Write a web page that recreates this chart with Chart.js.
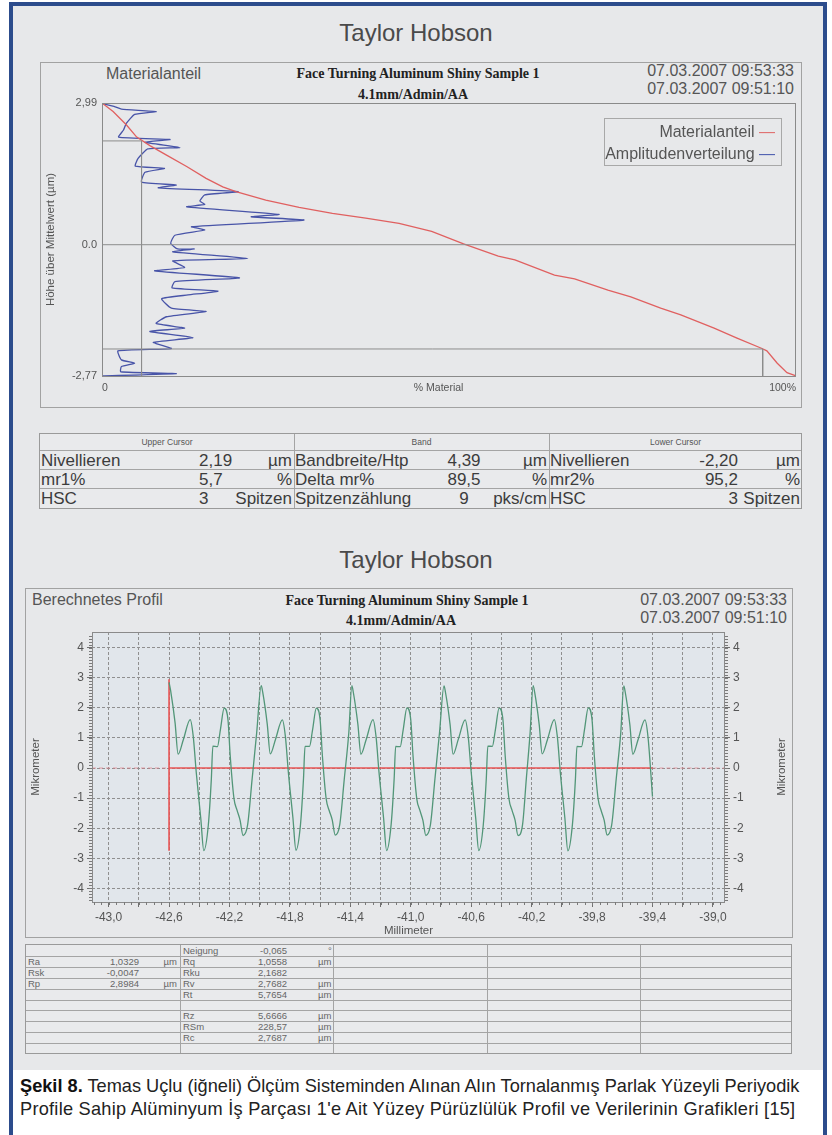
<!DOCTYPE html>
<html>
<head>
<meta charset="utf-8">
<script src="https://cdn.jsdelivr.net/npm/chart.js@4.4.0/dist/chart.umd.min.js"></script>
<style>
  body { margin:0; width:832px; height:1135px; position:relative; background:#fff; overflow:hidden;
         font-family:'Liberation Sans', Arial, sans-serif; color:#555; }
  .abs { position:absolute; white-space:nowrap; }
  #border { left:9px; top:2px; width:818px; height:1150px; border:4px solid #2c4c8c; border-bottom:none; box-sizing:border-box; }
  #panel { left:13px; top:6px; width:810px; height:1064px; background:#e7e8ea; }
  .brand { left:0; width:832px; text-align:center; font-size:24px; line-height:24px; color:#4a4a4a; }
  .frame { border:1px solid #a2a2a2; box-sizing:border-box; }
  .head { font-size:16px; line-height:16px; color:#555; }
  .serif { font-family:'Liberation Serif', 'Times New Roman', serif; font-weight:bold; font-size:14px; line-height:14px; color:#222; text-align:center; width:400px; }
  .date { font-size:16px; line-height:18px; color:#555; text-align:right; }
  #legend { left:604px; top:118px; width:178px; height:48px; border:1px solid #a8a8a8; box-sizing:border-box; font-size:16px; color:#555; }
  #legend div { text-align:right; padding-right:6px; line-height:22px; }
  .tbl { border:1px solid #9a9a9a; box-sizing:border-box; background:#e9eaec; }
  .cell { position:absolute; white-space:nowrap; }
  canvas { position:absolute; }
  #caption { left:20px; top:1075px; font-size:18.2px; line-height:23px; color:#222; }
  #caption b { color:#111; }
</style>
</head>
<body>
<div class="abs" id="border"></div>
<div class="abs" id="panel"></div>

<div class="abs brand" style="top:21px;">Taylor Hobson</div>
<div class="abs frame" style="left:40px; top:62px; width:762px; height:346px;"></div>
<div class="abs head" style="left:106px; top:66px;">Materialanteil</div>
<div class="abs serif" style="left:218px; top:67px;">Face Turning Aluminum Shiny Sample 1</div>
<div class="abs serif" style="left:213px; top:88px;">4.1mm/Admin/AA</div>
<div class="abs date" style="right:38px; top:62px;">07.03.2007 09:53:33<br>07.03.2007 09:51:10</div>
<canvas id="chart1" width="762" height="346" style="left:40px; top:62px;"></canvas>
<div class="abs" id="legend">
  <div style="margin-top:2px;">Materialanteil <span style="color:#e07070">—</span></div>
  <div>Amplitudenverteilung <span style="color:#5060b0">—</span></div>
</div>

<div class="abs tbl" id="table1" style="left:39px; top:433px; width:763px; height:76px;"></div>

<div class="abs brand" style="top:548px;">Taylor Hobson</div>
<div class="abs frame" style="left:25px; top:588px; width:768px; height:350px;"></div>
<div class="abs head" style="left:32px; top:592px;">Berechnetes Profil</div>
<div class="abs serif" style="left:207px; top:594px;">Face Turning Aluminum Shiny Sample 1</div>
<div class="abs serif" style="left:201px; top:614px;">4.1mm/Admin/AA</div>
<div class="abs date" style="right:45px; top:591px;">07.03.2007 09:53:33<br>07.03.2007 09:51:10</div>
<canvas id="chart2" width="768" height="350" style="left:25px; top:588px;"></canvas>

<div class="abs tbl" id="table2" style="left:25px; top:944px; width:767px; height:110px;"></div>

<div class="abs" id="caption"><b>Şekil 8.</b> Temas Uçlu (iğneli) Ölçüm Sisteminden Alınan Alın Tornalanmış Parlak Yüzeyli Periyodik<br><span style="letter-spacing:0.25px;">Profile Sahip Alüminyum İş Parçası 1'e Ait Yüzey Pürüzlülük Profil ve Verilerinin Grafikleri [15]</span></div>

<script>
// Materialanteil (Abbott curve): % material vs height (um)
const redMaterial = [0, 1.6, 3.5, 5.0, 6.9, 9.3, 12.2, 15.0, 17.4, 19.3, 23.6, 28.4, 33.2, 38.0, 42.8, 47.5,
  52.1, 57.1, 59.5, 65.2, 68.1, 72.9, 76.2, 80.5, 83.4, 88.2, 91.5, 95.1, 95.8, 97.3, 98.7, 99.7, 100];
const redHeight = [2.99, 2.81, 2.53, 2.27, 2.09, 1.89, 1.65, 1.40, 1.22, 1.12, 0.94, 0.79, 0.66, 0.56, 0.45, 0.28,
  0.02, -0.24, -0.32, -0.64, -0.72, -0.96, -1.10, -1.34, -1.48, -1.76, -1.97, -2.19, -2.24, -2.50, -2.70, -2.75, -2.77];

// Amplitudenverteilung
const blueMaterial = [0, 1.9, 2.8, 7.8, 4.7, 3.5, 3.1, 2.4, 9.8, 6.2, 11.2, 6.6, 5.2, 4.8, 9.0, 6.2, 5.7, 10.7, 8.1, 19.6,
  14.8, 14.1, 14.8, 12.2, 25.5, 21.5, 29.1, 12.9, 14.8, 10.5, 9.9, 10.9, 13.3, 10.2, 21.0, 10.2, 11.9, 7.6, 19.8, 10.5,
  10.1, 16.7, 12.4, 8.6, 10.0, 15.0, 9.3, 7.8, 11.9, 6.9, 13.1, 7.4, 10.0, 2.3, 2.8, 4.7, 2.8, 2.7, 10.7, 0];
const blueHeight = [2.98, 2.91, 2.86, 2.81, 2.75, 2.56, 2.42, 2.27, 2.22, 2.16, 2.05, 2.02, 1.82, 1.66, 1.61, 1.53, 1.32, 1.26, 1.20, 1.12,
  1.05, 0.92, 0.85, 0.80, 0.64, 0.59, 0.52, 0.38, 0.31, 0.20, 0.03, -0.09, -0.09, -0.15, -0.29, -0.34, -0.48, -0.55, -0.70, -0.78,
  -0.91, -0.98, -1.06, -1.14, -1.34, -1.41, -1.52, -1.66, -1.76, -1.83, -1.96, -2.06, -2.19, -2.24, -2.43, -2.50, -2.57, -2.68, -2.72, -2.77];

const heightRange1 = [-2.77, 2.99];
const yTicks1 = [-2.77, 0, 2.99];
const yTickLabels1 = ['-2,77', '0.0', '2,99'];
const xTicks1 = [0, 48.5, 100];
const xTickLabels1 = ['0', '% Material', '100%'];
const cursorLevels = [2.19, -2.20];   // upper, lower Nivellieren
const cursorMr = [5.7, 95.2];         // mr1%, mr2%

// Berechnetes Profil
const profileX = [
  -42.600, -42.590, -42.560, -42.540, -42.505, -42.460, -42.440, -42.420, -42.390, -42.370, -42.340, -42.320, -42.310,
  -42.280, -42.260, -42.235, -42.210, -42.195, -42.170, -42.150, -42.130, -42.110, -42.080, -42.050, -42.020,
  -41.990, -41.980, -41.950, -41.930, -41.895, -41.850, -41.830, -41.810, -41.780, -41.760, -41.730, -41.710, -41.700,
  -41.670, -41.650, -41.625, -41.600, -41.585, -41.560, -41.540, -41.520, -41.500, -41.470, -41.440, -41.410,
  -41.390, -41.380, -41.350, -41.330, -41.295, -41.250, -41.230, -41.210, -41.180, -41.160, -41.130, -41.110, -41.100,
  -41.070, -41.050, -41.025, -41.000, -40.985, -40.960, -40.940, -40.920, -40.900, -40.870, -40.840, -40.810,
  -40.780, -40.770, -40.740, -40.720, -40.685, -40.640, -40.620, -40.600, -40.570, -40.550, -40.520, -40.500, -40.490,
  -40.460, -40.440, -40.415, -40.390, -40.375, -40.350, -40.330, -40.310, -40.290, -40.260, -40.235, -40.210,
  -40.190, -40.180, -40.150, -40.130, -40.095, -40.050, -40.030, -40.010, -39.980, -39.960, -39.930, -39.910, -39.900,
  -39.870, -39.850, -39.825, -39.800, -39.785, -39.760, -39.740, -39.720, -39.700, -39.670, -39.640, -39.610,
  -39.590, -39.580, -39.550, -39.530, -39.495, -39.450, -39.430, -39.400];
const profileY = [
  2.85, 2.59, 1.50, 0.46, 0.95, 1.61, 1.06, -0.14, -1.67, -2.74, -1.89, -0.36, 0.73,
  0.71, 1.28, 1.99, 1.61, 0.40, -1.02, -1.40, -1.73, -2.24, -1.89, -0.36, 1.17,
  2.74, 2.52, 1.46, 0.47, 0.96, 1.60, 1.05, -0.15, -1.66, -2.73, -1.88, -0.35, 0.72,
  0.72, 1.27, 1.99, 1.60, 0.41, -1.02, -1.41, -1.72, -2.23, -1.88, -0.36, 1.18,
  2.74, 2.51, 1.45, 0.46, 0.95, 1.61, 1.05, -0.15, -1.66, -2.74, -1.88, -0.36, 0.72,
  0.71, 1.28, 2.00, 1.60, 0.40, -1.03, -1.40, -1.73, -2.24, -1.89, -0.36, 1.16,
  2.73, 2.51, 1.46, 0.46, 0.96, 1.60, 1.06, -0.14, -1.67, -2.74, -1.89, -0.35, 0.73,
  0.72, 1.27, 1.99, 1.61, 0.41, -1.02, -1.40, -1.72, -2.24, -1.88, -0.35, 1.17,
  2.74, 2.52, 1.45, 0.47, 0.95, 1.61, 1.05, -0.15, -1.66, -2.75, -1.88, -0.36, 0.72,
  0.71, 1.28, 2.00, 1.60, 0.40, -1.02, -1.41, -1.73, -2.23, -1.89, -0.36, 1.17,
  2.73, 2.51, 1.45, 0.46, 0.95, 1.60, 1.05, -0.95];

const xRange2 = [-43.11, -38.92];
const yRange2 = [-4.45, 4.52];
const xTicks2 = [-43.0, -42.8, -42.6, -42.4, -42.2, -42.0, -41.8, -41.6, -41.4, -41.2, -41.0,
  -40.8, -40.6, -40.4, -40.2, -40.0, -39.8, -39.6, -39.4, -39.2, -39.0];
const xTickLabels2 = ['-43,0', '', '-42,6', '', '-42,2', '', '-41,8', '', '-41,4', '', '-41,0',
  '', '-40,6', '', '-40,2', '', '-39,8', '', '-39,4', '', '-39,0'];
const yTicks2 = [-4, -3, -2, -1, 0, 1, 2, 3, 4];
const evalRange = [-42.6, -39.4];      // red reference line span
const markerHeights = [2.95, -2.75];   // red start marker

// tables
const cursorHeads = ['Upper Cursor', 'Band', 'Lower Cursor'];
const upperCursorRows = [['Nivellieren', '2,19', 'µm'], ['mr1%', '5,7', '%'], ['HSC', '3', 'Spitzen']];
const bandRows = [['Bandbreite/Htp', '4,39', 'µm'], ['Delta mr%', '89,5', '%'], ['Spitzenzählung', '9', 'pks/cm']];
const lowerCursorRows = [['Nivellieren', '-2,20', 'µm'], ['mr2%', '95,2', '%'], ['HSC', '3', 'Spitzen']];
const paramRowsA = [['', '', ''], ['Ra', '1,0329', 'µm'], ['Rsk', '-0,0047', ''], ['Rp', '2,8984', 'µm'],
  ['', '', ''], ['', '', ''], ['', '', ''], ['', '', ''], ['', '', ''], ['', '', '']];
const paramRowsB = [['Neigung', '-0,065', '°'], ['Rq', '1,0558', 'µm'], ['Rku', '2,1682', ''], ['Rv', '2,7682', 'µm'],
  ['Rt', '5,7654', 'µm'], ['', '', ''], ['Rz', '5,6666', 'µm'], ['RSm', '228,57', 'µm'], ['Rc', '2,7687', 'µm'], ['', '', '']];

Chart.defaults.font.family = "'Liberation Sans', Arial, sans-serif";
Chart.defaults.color = '#555';

const pts = (xs, ys) => xs.map((x, i) => ({ x: x, y: ys[i] }));
const lineDs = (data, color, width, extra) => Object.assign({
  data: data, showLine: true, borderColor: color, borderWidth: width, pointRadius: 0, fill: false
}, extra || {});

const plotFrame = {
  id: 'plotFrame',
  beforeDraw(chart, args, opts) {
    if (!opts.fill) return;
    const { ctx, chartArea: a } = chart;
    ctx.save();
    ctx.fillStyle = opts.fill;
    ctx.fillRect(a.left, a.top, a.right - a.left, a.bottom - a.top);
    ctx.restore();
  },
  afterDraw(chart, args, opts) {
    const { ctx, chartArea: a } = chart;
    ctx.save();
    ctx.strokeStyle = opts.color || '#888';
    ctx.lineWidth = 1;
    ctx.strokeRect(Math.round(a.left) + 0.5, Math.round(a.top) + 0.5, Math.round(a.right - a.left) - 1, Math.round(a.bottom - a.top));
    ctx.restore();
  }
};

// chart 1 - Materialanteil
new Chart(document.getElementById('chart1'), {
  type: 'scatter',
  data: {
    datasets: [
      lineDs([{ x: 0, y: 0 }, { x: 100, y: 0 }], '#8c8c8c', 1),
      lineDs([{ x: 0, y: cursorLevels[0] }, { x: cursorMr[0], y: cursorLevels[0] }, { x: cursorMr[0], y: heightRange1[0] }], '#8c8c8c', 1),
      lineDs([{ x: 0, y: cursorLevels[1] }, { x: cursorMr[1], y: cursorLevels[1] }, { x: cursorMr[1], y: heightRange1[0] }], '#8c8c8c', 1),
      lineDs(pts(redMaterial, redHeight), 'rgb(224,96,96)', 1.3),
      lineDs(pts(blueMaterial, blueHeight), 'rgb(72,84,168)', 1.3, { tension: 0.15 })
    ]
  },
  options: {
    responsive: false,
    animation: false,
    devicePixelRatio: 1,
    layout: { padding: { left: 0, right: 3, top: 41, bottom: 0 } },
    plugins: { legend: { display: false }, tooltip: { enabled: false }, plotFrame: { color: '#8a8a8a' } },
    scales: {
      x: {
        type: 'linear', min: 0, max: 100,
        grid: { display: false, drawTicks: false },
        border: { display: false },
        afterBuildTicks: (s) => { s.ticks = xTicks1.map(v => ({ value: v })); },
        afterFit: (s) => { s.height = 32; },
        ticks: { autoSkip: false, maxRotation: 0, align: 'inner', padding: 6, font: { size: 10.5 }, color: '#555',
                 callback: (v, i) => xTickLabels1[i] }
      },
      y: {
        type: 'linear', min: heightRange1[0], max: heightRange1[1],
        grid: { display: false, drawTicks: false },
        border: { display: false },
        afterBuildTicks: (s) => { s.ticks = yTicks1.map(v => ({ value: v })); },
        afterFit: (s) => { s.width = 62; },
        ticks: { autoSkip: false, padding: 5, font: { size: 11 }, color: '#555', callback: (v, i) => yTickLabels1[i] },
        title: { display: true, text: 'Höhe über Mittelwert (µm)', font: { size: 11.5 }, color: '#555', padding: { top: 4, bottom: 0 } }
      }
    }
  },
  plugins: [plotFrame]
});

// chart 2 - Berechnetes Profil
const profileExtras = {
  id: 'profileExtras',
  afterDraw(chart) {
    const { ctx, chartArea: a, scales } = chart;
    ctx.save();
    ctx.strokeStyle = '#7a7a7a';
    ctx.lineWidth = 1;
    ctx.beginPath();
    for (let v = -4.4; v <= 4.5; v += 0.1) {
      const py = Math.round(scales.y.getPixelForValue(v)) + 0.5;
      ctx.moveTo(a.left - 3, py); ctx.lineTo(a.left, py);
      ctx.moveTo(a.right, py); ctx.lineTo(a.right + 3, py);
    }
    for (let v = -43.1; v <= -38.92; v += 0.05) {
      const px = Math.round(scales.x.getPixelForValue(v)) + 0.5;
      ctx.moveTo(px, a.bottom); ctx.lineTo(px, a.bottom + 3);
    }
    ctx.stroke();
    // right axis title, same orientation as the left one
    ctx.fillStyle = '#555';
    ctx.font = "11.5px 'Liberation Sans', Arial, sans-serif";
    ctx.textAlign = 'center';
    ctx.textBaseline = 'middle';
    ctx.translate(chart.width - 11, (a.top + a.bottom) / 2);
    ctx.rotate(-Math.PI / 2);
    ctx.fillText('Mikrometer', 0, 0);
    ctx.restore();
  }
};

const gridOpts = { color: '#8f8f8f', lineWidth: 1, tickLength: 5, tickColor: '#6f6f6f' };

new Chart(document.getElementById('chart2'), {
  type: 'scatter',
  data: {
    datasets: [
      lineDs([{ x: xRange2[0], y: 0 }, { x: evalRange[0], y: 0 }], 'rgba(226,120,130,0.7)', 1, { borderDash: [4, 3] }),
      lineDs([{ x: evalRange[1], y: 0 }, { x: xRange2[1], y: 0 }], 'rgba(226,120,130,0.7)', 1, { borderDash: [4, 3] }),
      lineDs(pts(profileX, profileY), 'rgb(82,150,120)', 1.3, { cubicInterpolationMode: 'monotone' }),
      lineDs([{ x: evalRange[0], y: 0 }, { x: evalRange[1], y: 0 }], 'rgb(232,84,84)', 1.6),
      lineDs([{ x: evalRange[0], y: markerHeights[0] }, { x: evalRange[0], y: markerHeights[1] }], 'rgb(232,84,84)', 1.6)
    ]
  },
  options: {
    responsive: false,
    animation: false,
    devicePixelRatio: 1,
    layout: { padding: { left: 0, right: 0, top: 44, bottom: 0 } },
    plugins: { legend: { display: false }, tooltip: { enabled: false }, plotFrame: { color: '#8a8a8a', fill: '#e1e6eb' } },
    scales: {
      x: {
        type: 'linear', min: xRange2[0], max: xRange2[1],
        grid: gridOpts,
        border: { display: false, dash: [3, 2] },
        afterBuildTicks: (s) => { s.ticks = xTicks2.map(v => ({ value: v })); },
        afterFit: (s) => { s.height = 36; },
        ticks: { autoSkip: false, maxRotation: 0, padding: 3, font: { size: 12 }, color: '#555',
                 callback: (v, i) => xTickLabels2[i] },
        title: { display: true, text: 'Millimeter', font: { size: 11.5 }, color: '#555', padding: { top: 0, bottom: 0 } }
      },
      y: {
        type: 'linear', position: 'left', min: yRange2[0], max: yRange2[1],
        grid: gridOpts,
        border: { display: false, dash: [3, 2] },
        afterBuildTicks: (s) => { s.ticks = yTicks2.map(v => ({ value: v })); },
        afterFit: (s) => { s.width = 67; },
        ticks: { autoSkip: false, padding: 3, font: { size: 12 }, color: '#555' },
        title: { display: true, text: 'Mikrometer', font: { size: 11.5 }, color: '#555', padding: { top: 4, bottom: 0 } }
      },
      y2: {
        type: 'linear', position: 'right', min: yRange2[0], max: yRange2[1],
        grid: { drawOnChartArea: false, tickLength: 5, tickColor: '#6f6f6f' },
        border: { display: false },
        afterBuildTicks: (s) => { s.ticks = yTicks2.map(v => ({ value: v })); },
        afterFit: (s) => { s.width = 68; },
        ticks: { autoSkip: false, padding: 3, font: { size: 12 }, color: '#555' }
      }
    }
  },
  plugins: [plotFrame, profileExtras]
});

// tables
function addCell(parent, text, css) {
  const d = document.createElement('div');
  d.className = 'cell';
  d.textContent = text;
  Object.assign(d.style, css);
  parent.appendChild(d);
}
function addLine(parent, css) {
  const d = document.createElement('div');
  d.className = 'cell';
  Object.assign(d.style, { background: '#a4a4a4' }, css);
  parent.appendChild(d);
}

const t1 = document.getElementById('table1');
const t1Cols = [0, 254, 509, 762];
const t1Rows = [16, 35, 54];
const t1Groups = [upperCursorRows, bandRows, lowerCursorRows];
const t1ValueCss = [
  (c) => ({ left: (c + 159) + 'px' }),
  (c) => ({ left: (c + 150) + 'px', width: '40px', textAlign: 'center' }),
  (c) => ({ right: (762 - c - 190) + 'px' })
];
t1Cols.slice(1, 3).forEach(c => addLine(t1, { left: c + 'px', top: '0px', width: '1px', height: '74px' }));
t1Rows.forEach(r => addLine(t1, { left: '0px', top: r + 'px', width: '761px', height: '1px' }));
cursorHeads.forEach((h, i) => addCell(t1, h, {
  left: t1Cols[i] + 'px', width: (t1Cols[i + 1] - t1Cols[i]) + 'px', top: '3px', textAlign: 'center',
  fontSize: '8.5px', lineHeight: '10px', color: '#555'
}));
t1Groups.forEach((rows, g) => {
  const c = t1Cols[g];
  rows.forEach((row, r) => {
    const top = (t1Rows[r] + 1) + 'px';
    const base = { top: top, fontSize: '17px', lineHeight: '19px', color: '#3c3c3c' };
    addCell(t1, row[0], Object.assign({ left: (c + 1) + 'px' }, base));
    addCell(t1, row[1], Object.assign(t1ValueCss[g](c), base));
    addCell(t1, row[2], Object.assign({ right: (762 - t1Cols[g + 1] + 1) + 'px' }, base));
  });
});

const t2 = document.getElementById('table2');
const t2Cols = [154, 307, 461, 614];
const t2RowH = 10.9;
t2Cols.forEach(c => addLine(t2, { left: c + 'px', top: '0px', width: '1px', height: '108px' }));
for (let r = 1; r < paramRowsB.length; r++) {
  addLine(t2, { left: '0px', top: Math.round(r * t2RowH) + 'px', width: '765px', height: '1px' });
}
const t2Text = { fontSize: '9.5px', lineHeight: '11px', color: '#666' };
paramRowsA.forEach((row, r) => {
  const top = Math.round(r * t2RowH) + 'px';
  addCell(t2, row[0], Object.assign({ left: '2px', top: top }, t2Text));
  addCell(t2, row[1], Object.assign({ right: (767 - 115) + 'px', top: top }, t2Text));
  addCell(t2, row[2], Object.assign({ right: (767 - 153) + 'px', top: top }, t2Text));
});
paramRowsB.forEach((row, r) => {
  const top = Math.round(r * t2RowH) + 'px';
  addCell(t2, row[0], Object.assign({ left: '157px', top: top }, t2Text));
  addCell(t2, row[1], Object.assign({ right: (767 - 263) + 'px', top: top }, t2Text));
  addCell(t2, row[2], Object.assign({ left: row[2] === '°' ? '302px' : '292px', top: top }, t2Text));
});
</script>
</body>
</html>
